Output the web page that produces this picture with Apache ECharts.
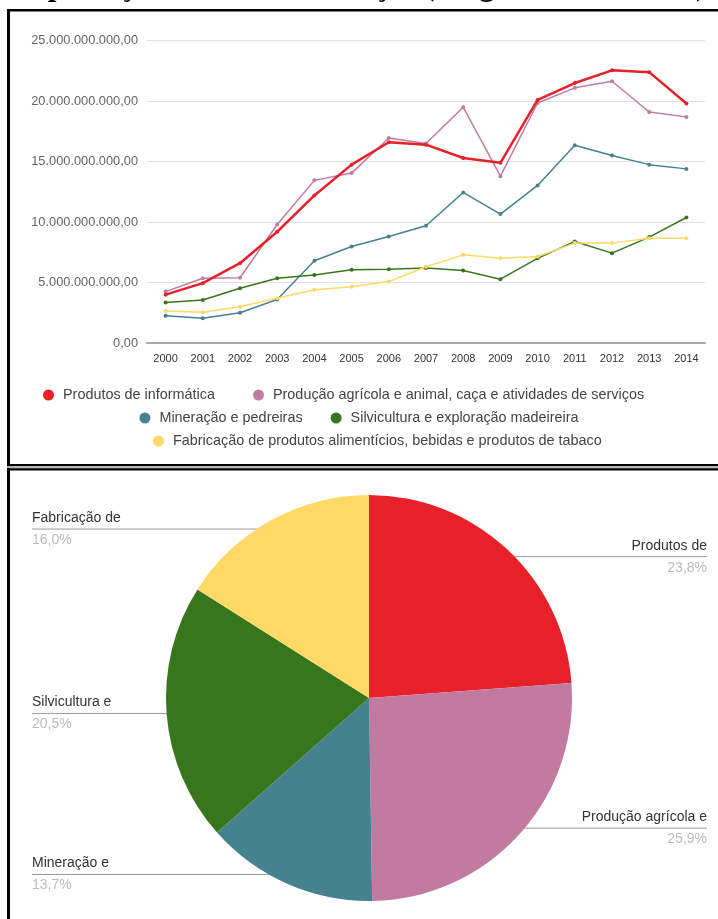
<!DOCTYPE html>
<html>
<head>
<meta charset="utf-8">
<script src="https://cdn.jsdelivr.net/npm/echarts@6/dist/echarts.min.js"></script>
<style>
  html, body { margin: 0; padding: 0; background: #fff; }
  #chart { width: 718px; height: 919px; }
</style>
</head>
<body>
<div id="chart"></div>
<script>
// Anos da série histórica
const years = ['2000', '2001', '2002', '2003', '2004', '2005', '2006', '2007',
               '2008', '2009', '2010', '2011', '2012', '2013', '2014'];

// Nomes dos setores
const sectorNames = [
  'Produtos de informática',
  'Produção agrícola e animal, caça e atividades de serviços',
  'Mineração e pedreiras',
  'Silvicultura e exploração madeireira',
  'Fabricação de produtos alimentícios, bebidas e produtos de tabaco'
];

// Valor exportado por ano (R$)
const produtosInformatica = [4.00e9, 4.95e9, 6.60e9, 9.20e9, 12.20e9, 14.75e9, 16.60e9, 16.40e9,
                             15.30e9, 14.90e9, 20.10e9, 21.50e9, 22.55e9, 22.40e9, 19.80e9];
const producaoAgricola    = [4.25e9, 5.35e9, 5.40e9, 9.80e9, 13.45e9, 14.05e9, 16.95e9, 16.50e9,
                             19.50e9, 13.80e9, 19.85e9, 21.10e9, 21.65e9, 19.10e9, 18.70e9];
const mineracao           = [2.25e9, 2.05e9, 2.50e9, 3.60e9, 6.80e9, 7.98e9, 8.80e9, 9.70e9,
                             12.45e9, 10.66e9, 13.03e9, 16.35e9, 15.50e9, 14.75e9, 14.40e9];
const silvicultura        = [3.34e9, 3.56e9, 4.53e9, 5.36e9, 5.63e9, 6.05e9, 6.10e9, 6.20e9,
                             5.99e9, 5.28e9, 7.00e9, 8.40e9, 7.43e9, 8.76e9, 10.38e9];
const fabricacaoAlimentos = [2.65e9, 2.55e9, 3.00e9, 3.70e9, 4.40e9, 4.66e9, 5.08e9, 6.30e9,
                             7.29e9, 7.00e9, 7.15e9, 8.26e9, 8.26e9, 8.67e9, 8.67e9];

// Participação de cada setor (%)
const pieShares = [23.8, 25.9, 13.7, 20.5, 16.0];
const pieLabels = ['Produtos de', 'Produção agrícola e', 'Mineração e', 'Silvicultura e', 'Fabricação de'];

// Marcas do eixo de valores
const yTickMin = 0, yTickMax = 25e9, yTickStep = 5e9;

const colors = ['#e8202a', '#c27ba0', '#45818e', '#38761d', '#ffd966'];
const lineData = [produtosInformatica, producaoAgricola, mineracao, silvicultura, fabricacaoAlimentos];

function formatBRL(v) {
  const s = Math.round(v).toString().replace(/\B(?=(\d{3})+(?!\d))/g, '.');
  return s + ',00';
}

const FONT = '"Liberation Sans", Arial, sans-serif';
const pieCenter = [369, 698];
const pieRadius = 203;

const chart = echarts.init(document.getElementById('chart'), null, { renderer: 'canvas' });

const lineSeries = lineData.map((d, i) => ({
  name: sectorNames[i],
  type: 'line',
  data: d,
  color: colors[i],
  symbol: 'circle',
  symbolSize: 4,
  showSymbol: true,
  z: i === 0 ? 5 : 2,
  lineStyle: { width: i === 0 ? 2.5 : 1.5, color: colors[i] },
  itemStyle: { color: colors[i] },
  emphasis: { disabled: true },
  animation: false
}));

// Legenda em três linhas
const legendBase = {
  left: 'center',
  icon: 'circle',
  itemWidth: 11,
  itemHeight: 11,
  itemGap: 28,
  formatter: name => '{g|}' + name,
  textStyle: { fontSize: 14.4, color: '#444', fontFamily: FONT, rich: { g: { width: 4 } } },
  selectedMode: false
};

const option = {
  animation: false,
  textStyle: { fontFamily: FONT },
  graphic: [
    { type: 'text', silent: true, style: {
        text: 'Exportações de bens e serviços (Magnitude do valor)',
        x: 359, y: -13, align: 'center', verticalAlign: 'middle',
        font: 'bold 31px "Liberation Serif", "Times New Roman", serif', fill: '#000' } },
    { type: 'rect', silent: true, shape: { x: 7, y: 9, width: 711, height: 2.5 }, style: { fill: '#000' } },
    { type: 'rect', silent: true, shape: { x: 7, y: 9, width: 3, height: 457 }, style: { fill: '#000' } },
    { type: 'rect', silent: true, shape: { x: 7, y: 464, width: 711, height: 2.2 }, style: { fill: '#000' } },
    { type: 'rect', silent: true, shape: { x: 7, y: 466.2, width: 711, height: 2 }, style: { fill: '#b4b4b4' } },
    { type: 'rect', silent: true, shape: { x: 7, y: 468.2, width: 711, height: 2.2 }, style: { fill: '#000' } },
    { type: 'rect', silent: true, shape: { x: 7, y: 468, width: 3, height: 451 }, style: { fill: '#000' } }
  ],
  grid: { left: 147, right: 13, top: 40.7, bottom: 919 - 343, containLabel: false },
  xAxis: {
    type: 'category',
    data: years,
    boundaryGap: true,
    axisTick: { show: false },
    axisLine: { lineStyle: { color: '#aaa', width: 2 } },
    axisLabel: { fontSize: 11, color: '#333', margin: 10, fontFamily: FONT, interval: 0 }
  },
  yAxis: {
    type: 'value',
    min: yTickMin, max: yTickMax, interval: yTickStep,
    axisLine: { show: false },
    axisTick: { show: false },
    splitLine: { lineStyle: { color: '#e2e2e2', width: 1 } },
    axisLabel: { fontSize: 12.8, color: '#666', margin: 9, fontFamily: FONT, formatter: formatBRL }
  },
  legend: [
    Object.assign({}, legendBase, { data: [sectorNames[0], sectorNames[1]], top: 383, left: 38, itemGap: 38 }),
    Object.assign({}, legendBase, { data: [sectorNames[2], sectorNames[3]], top: 406 }),
    Object.assign({}, legendBase, { data: [sectorNames[4]], top: 429, left: 148 })
  ],
  series: lineSeries.concat([{
    type: 'pie',
    center: pieCenter,
    radius: pieRadius,
    startAngle: 90,
    clockwise: true,
    avoidLabelOverlap: false,
    legendHoverLink: false,
    emphasis: { disabled: true },
    data: pieShares.map((v, i) => ({ name: sectorNames[i], value: v, itemStyle: { color: colors[i] } })),
    label: {
      show: true,
      position: 'outside',
      formatter: p => '{n|' + pieLabels[p.dataIndex] + '}\n{p|' + p.value.toFixed(1).replace('.', ',') + '%}',
      rich: {
        n: { fontSize: 14, color: '#333', fontFamily: FONT, lineHeight: 22 },
        p: { fontSize: 14, color: '#bbb', fontFamily: FONT, lineHeight: 22 }
      }
    },
    labelLine: { show: true, length: 10, length2: 10, lineStyle: { color: '#999', width: 1 } },
    labelLayout: function (params) {
      const p0 = params.labelLinePoints[0];
      const sx = pieCenter[0] + (p0[0] - pieCenter[0]) * 0.95;
      const sy = pieCenter[1] + (p0[1] - pieCenter[1]) * 0.95;
      const right = sx > pieCenter[0];
      const ex = right ? 707 : 32;
      return {
        x: ex, y: sy,
        align: right ? 'right' : 'left',
        verticalAlign: 'middle',
        labelLinePoints: [[sx, sy], [ex, sy], [ex, sy]]
      };
    }
  }])
};

chart.setOption(option);
</script>
</body>
</html>
